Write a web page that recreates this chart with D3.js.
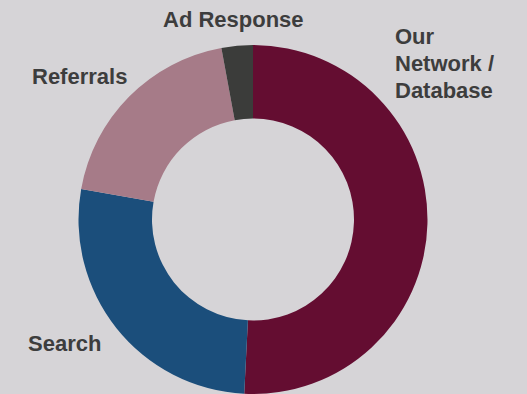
<!DOCTYPE html>
<html>
<head>
<meta charset="utf-8">
<script src="https://cdn.jsdelivr.net/npm/d3@7"></script>
<style>
  html, body { margin: 0; padding: 0; background: #d6d4d7; }
  svg { display: block; }
  .lbl { font-family: "Liberation Sans", Arial, sans-serif; font-weight: bold; font-size: 22px; fill: #3d3d3d; }
</style>
</head>
<body>
<svg id="chart" width="527" height="394"></svg>
<script>
// slices, clockwise from 12 o'clock
var sources = ["Our Network / Database", "Search", "Referrals", "Ad Response"];
var shares  = [50.8, 27.0, 19.3, 2.9];
var colors  = ["#640d31", "#1b4e7b", "#a67b88", "#3b3c3a"];

// label text lines, one array per slice
var labelLines = [["Our", "Network /", "Database"], ["Search"], ["Referrals"], ["Ad Response"]];

var width = 527, height = 394;
var cx = 253, cy = 219.5;
var outerR = 174.5, innerR = 101;

var svg = d3.select("#chart");

svg.append("rect")
    .attr("width", width)
    .attr("height", height)
    .attr("fill", "#d6d4d7");

var pie = d3.pie().sort(null).value(function(d) { return d; });
var arc = d3.arc().innerRadius(innerR).outerRadius(outerR);

var color = d3.scaleOrdinal().domain(sources).range(colors);

var g = svg.append("g").attr("transform", "translate(" + cx + "," + cy + ")");

var arcs = pie(shares);

g.selectAll("path")
    .data(arcs)
    .enter().append("path")
    .attr("d", arc)
    .attr("fill", function(d, i) { return color(sources[i]); });

// labels sit outside the ring; anchor positions chosen per slice
var labelPos = [[395, 44], [28, 351], [32, 84], [163, 27]];
var lineH = 27;

labelLines.forEach(function(lines, i) {
    var t = svg.append("text")
        .attr("class", "lbl")
        .attr("x", labelPos[i][0])
        .attr("y", labelPos[i][1]);
    lines.forEach(function(s, k) {
        t.append("tspan")
            .attr("x", labelPos[i][0])
            .attr("dy", k == 0 ? 0 : lineH)
            .text(s);
    });
});
</script>
</body>
</html>
